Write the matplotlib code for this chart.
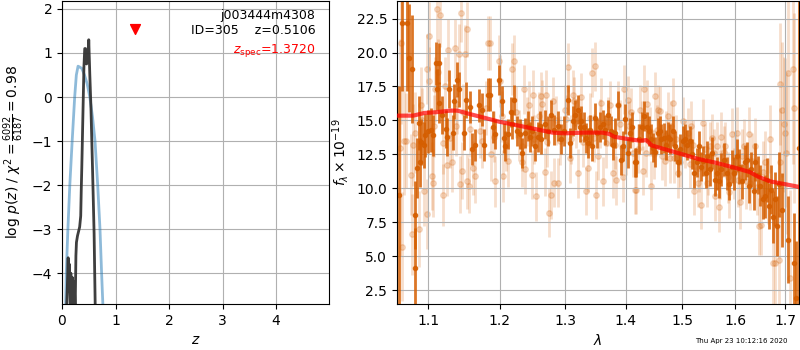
import matplotlib
matplotlib.use("Agg")
import matplotlib.pyplot as plt
from matplotlib.ticker import FixedLocator, FixedFormatter, NullLocator

# --- left panel: redshift PDF ---
z_prior = [0.06, 0.08, 0.11, 0.146, 0.19, 0.237, 0.268, 0.30, 0.33, 0.37, 0.42, 0.47,
           0.52, 0.57, 0.617, 0.667, 0.71, 0.74, 0.77, 0.80]
logp_prior = [-5.2, -4.0, -3.0, -2.0, -1.0, 0.0, 0.5, 0.70, 0.68, 0.65, 0.50, 0.30,
              0.0, -0.45, -1.0, -2.0, -3.0, -4.0, -4.9, -5.8]

z_fit = [0.08, 0.10, 0.115, 0.125, 0.14, 0.155, 0.165, 0.18, 0.195, 0.205, 0.215, 0.23,
         0.245, 0.26, 0.27, 0.29, 0.31, 0.33, 0.35, 0.36, 0.37, 0.39, 0.41, 0.425, 0.44,
         0.45, 0.46, 0.47, 0.48, 0.49, 0.50, 0.51, 0.52, 0.54, 0.57, 0.60, 0.62, 0.64]
logp_fit = [-5.0, -4.3, -3.65, -4.4, -3.8, -4.9, -4.0, -4.9, -4.1, -4.3, -4.9, -4.2,
            -4.9, -3.6, -3.3, -3.15, -3.05, -2.95, -2.7, -2.1, -1.6, -0.45, 0.69, 1.1, 1.1,
            0.9, 0.75, 1.0, 1.05, 0.8, 1.3, 0.9, 0.5, -0.2, -1.6, -3.1, -4.7, -6.0]

z_spec = 1.372
z_best = 0.5106
obj_name = "j003444m4308"
obj_id = 305

# --- right panel: spectrum (binned, dark) ---
wave_bin = [1.062, 1.065, 1.072, 1.075, 1.079, 1.082, 1.083, 1.085, 1.088, 1.089, 1.091, 1.094,
            1.096, 1.100, 1.104, 1.107, 1.111, 1.112, 1.114, 1.115, 1.119, 1.124, 1.126, 1.129,
            1.134, 1.135, 1.139, 1.142, 1.149, 1.152, 1.157, 1.160, 1.165,
            1.170, 1.175, 1.178, 1.183, 1.186, 1.190, 1.194, 1.199, 1.203, 1.206, 1.208, 1.213,
            1.217, 1.219, 1.222, 1.226, 1.231, 1.234, 1.238, 1.242, 1.246, 1.248, 1.253, 1.257,
            1.261, 1.263, 1.268, 1.273, 1.277, 1.282,
            1.289, 1.294, 1.298, 1.305, 1.307, 1.313, 1.316, 1.320, 1.323, 1.326, 1.330, 1.334,
            1.337, 1.340, 1.343, 1.348, 1.352, 1.356, 1.361, 1.365, 1.370, 1.374, 1.378, 1.382,
            1.387, 1.392, 1.395, 1.399, 1.403, 1.407, 1.411, 1.415,
            1.418, 1.422, 1.427, 1.431, 1.436, 1.440, 1.444, 1.447, 1.451, 1.455, 1.459, 1.462,
            1.466, 1.471, 1.474, 1.478, 1.482, 1.487, 1.492, 1.496, 1.501, 1.504, 1.509, 1.513,
            1.518, 1.521, 1.526, 1.530, 1.534, 1.538, 1.543, 1.546, 1.551, 1.555, 1.561,
            1.564, 1.568, 1.573, 1.578, 1.583, 1.588, 1.593, 1.598, 1.603, 1.607, 1.612, 1.618,
            1.622, 1.626, 1.631, 1.636, 1.639, 1.645, 1.649, 1.654, 1.658, 1.663, 1.667, 1.671,
            1.676, 1.680, 1.684, 1.687, 1.694, 1.707, 1.719, 1.723, 1.728]
flux_bin = [9.5, 22.2, 22.2, 19.6, 18.8, 8.0, 4.1, 11.5, 14.8, 11.9, 13.4, 13.2,
            13.9, 14.2, 14.3, 13.9, 19.2, 17.3, 19.2, 16.3, 15.4, 14.4, 13.8, 17.3,
            14.1, 16.4, 18.0, 17.3, 14.1, 16.5, 16.0, 12.9, 13.2,
            16.1, 15.8, 13.2, 16.9, 16.9, 14.5, 14.0, 18.0, 16.4, 13.7, 13.1, 14.0,
            15.6, 14.7, 16.5, 14.2, 14.0, 12.6, 14.1, 14.6, 13.8, 14.2, 13.1, 13.8,
            14.6, 13.6, 14.7, 14.2, 15.4, 14.3,
            14.6, 13.6, 14.2, 16.5, 13.35, 14.95, 15.4, 15.8, 14.5, 14.95, 14.5, 13.7,
            13.35, 14.3, 13.1, 15.2, 14.1, 14.5, 14.7, 14.3, 15.4, 14.2, 13.2, 14.1,
            16.1, 12.1, 13.1, 15.1, 12.6, 14.1, 14.5, 11.9,
            11.9, 13.6, 14.5, 15.3, 14.5, 14.2, 13.6, 13.0, 12.7, 14.1, 14.2, 13.6,
            13.7, 13.2, 13.8, 13.6, 14.2, 13.1, 11.9, 12.9, 13.5, 13.6, 13.2, 13.5,
            12.5, 11.1, 11.9, 13.1, 11.6, 12.0, 11.1, 12.4, 11.4, 12.6, 10.6,
            11.1, 10.5, 11.4, 12.1, 11.1, 10.3, 11.6, 11.1, 12.4, 11.6, 10.5, 11.9,
            12.1, 10.2, 11.4, 9.8, 11.9, 11.0, 10.2, 9.2, 9.4, 10.6, 8.7, 9.9,
            7.9, 9.2, 7.2, 10.3, 8.4, 6.2, 4.5, 1.9, 13.0]
err_bin = [8.0, 5.0, 5.0, 4.0, 4.0, 2.5, 3.0, 2.2, 2.0, 1.8, 1.7, 1.7,
           1.6, 1.6, 1.6, 1.5, 1.6, 1.5, 1.5, 1.5, 1.4, 1.4, 1.4, 1.4,
           1.3, 1.3, 1.3, 1.3, 1.3, 1.3, 1.2, 1.2, 1.2,
           1.2, 1.2, 1.2, 1.2, 1.2, 1.2, 1.1, 1.1, 1.1, 1.1, 1.1, 1.1,
           1.1, 1.1, 1.1, 1.1, 1.1, 1.1, 1.1, 1.1, 1.1, 1.1, 1.1, 1.1,
           1.1, 1.1, 1.1, 1.1, 1.1, 1.1,
           1.1, 1.1, 1.1, 1.1, 1.1, 1.1, 1.1, 1.1, 1.1, 1.1, 1.1, 1.1,
           1.1, 1.1, 1.1, 1.1, 1.1, 1.1, 1.1, 1.1, 1.1, 1.1, 1.1, 1.1,
           1.1, 1.1, 1.1, 1.1, 1.1, 1.1, 1.1, 1.1,
           1.1, 1.1, 1.1, 1.1, 1.1, 1.1, 1.1, 1.1, 1.1, 1.1, 1.1, 1.1,
           1.1, 1.1, 1.1, 1.1, 1.1, 1.1, 1.1, 1.1, 1.1, 1.1, 1.1, 1.1,
           1.1, 1.1, 1.1, 1.1, 1.1, 1.1, 1.1, 1.1, 1.2, 1.2, 1.2,
           1.2, 1.2, 1.2, 1.2, 1.2, 1.2, 1.2, 1.2, 1.2, 1.3, 1.3, 1.3,
           1.3, 1.3, 1.3, 1.4, 1.4, 1.4, 1.5, 1.5, 1.6, 1.6, 1.7, 1.8,
           1.9, 2.0, 2.2, 2.4, 2.7, 3.2, 3.7, 4.2, 12.0]

# --- right panel: spectrum (unbinned, light) ---
wave_raw = [1.063, 1.064, 1.066, 1.068, 1.071, 1.077, 1.078, 1.080, 1.083, 1.088, 1.091, 1.094,
            1.098, 1.098, 1.101, 1.101, 1.105, 1.106, 1.109, 1.112, 1.113, 1.116, 1.120, 1.120,
            1.126, 1.127, 1.130, 1.133, 1.136, 1.138, 1.142, 1.144, 1.145, 1.146, 1.148, 1.150,
            1.153, 1.154, 1.156, 1.162,
            1.165, 1.175, 1.183, 1.186, 1.188, 1.194, 1.199, 1.200, 1.205, 1.213, 1.218, 1.222,
            1.233, 1.234, 1.236, 1.238, 1.244, 1.248, 1.250, 1.255, 1.263, 1.264, 1.268, 1.270,
            1.275, 1.277, 1.281, 1.282,
            1.288, 1.299, 1.305, 1.308, 1.313, 1.314, 1.321, 1.326, 1.334, 1.337, 1.343, 1.348,
            1.350, 1.353, 1.358, 1.361, 1.373, 1.378, 1.384, 1.387, 1.395, 1.397, 1.403, 1.409,
            1.412, 1.416,
            1.418, 1.424, 1.430, 1.431, 1.437, 1.444, 1.451, 1.456, 1.459, 1.468, 1.474, 1.479,
            1.482, 1.485, 1.492, 1.501, 1.510, 1.516, 1.522, 1.528, 1.534, 1.538, 1.545, 1.551,
            1.555, 1.561,
            1.564, 1.568, 1.573, 1.580, 1.588, 1.593, 1.597, 1.603, 1.609, 1.617, 1.626, 1.629,
            1.639, 1.646, 1.651, 1.659, 1.669, 1.676, 1.680, 1.687, 1.690, 1.690, 1.694, 1.697,
            1.700, 1.702, 1.707, 1.711, 1.716, 1.719,
            # pale points buried in the dense band around the model
            1.092, 1.108, 1.123, 1.139, 1.158, 1.172, 1.180, 1.192, 1.203, 1.210, 1.224, 1.229,
            1.241, 1.252, 1.259, 1.272, 1.285, 1.292, 1.302, 1.310, 1.318, 1.329, 1.340, 1.346,
            1.356, 1.366, 1.370, 1.381, 1.390, 1.400, 1.406, 1.421, 1.427, 1.434, 1.441, 1.448,
            1.454, 1.463, 1.471, 1.477, 1.489, 1.496, 1.505, 1.513, 1.519, 1.531, 1.541, 1.548,
            1.558, 1.571, 1.577, 1.585, 1.600, 1.606, 1.613, 1.621, 1.633, 1.642, 1.655, 1.664]
flux_raw = [13.0, 20.7, 5.7, 13.5, 13.5, 11.0, 6.6, 13.2, 14.1, 7.0, 16.1, 9.8,
            8.1, 18.8, 21.2, 17.9, 10.9, 10.4, 17.3, 23.2, 18.6, 22.8, 9.5, 13.35,
            11.7, 20.2, 13.7, 11.9, 20.3, 14.6, 19.9, 10.3, 22.9, 11.3, 15.6, 19.9,
            10.5, 21.7, 10.2, 11.5,
            10.9, 13.5, 20.7, 20.7, 12.5, 10.5, 19.4, 17.9, 10.9, 12.0, 18.8, 19.4,
            11.9, 13.1, 17.3, 11.4, 16.1, 11.0, 16.9, 9.4, 16.8, 16.2, 11.2, 16.9,
            8.2, 9.5, 16.4, 10.4,
            10.4, 15.8, 18.9, 12.2, 16.9, 16.4, 11.1, 16.7, 9.8, 11.5, 18.5, 19.0,
            9.5, 12.4, 16.3, 10.5, 16.1, 11.1, 10.6, 16.1, 10.8, 17.3, 16.5, 15.6,
            12.6, 9.9,
            9.9, 15.8, 11.3, 17.3, 16.2, 10.2, 16.8, 15.8, 15.7, 12.0, 15.3, 14.6,
            16.3, 12.2, 11.1, 14.95, 14.1, 14.6, 9.8, 10.4, 8.8, 14.8, 10.4, 13.1,
            13.7, 9.4,
            13.1, 8.6, 13.8, 13.1, 9.7, 14.0, 11.1, 14.1, 9.0, 13.1, 14.0, 10.4,
            13.1, 7.2, 7.3, 11.9, 13.6, 4.5, 4.5, 4.7, 17.7, 11.9, 15.8, 14.7,
            14.1, 12.6, 18.5, 3.4, 18.8, 15.9,
            15.0, 14.6, 17.5, 16.2, 14.4, 14.2, 15.9, 13.8, 15.3, 13.2, 15.6, 13.9,
            14.9, 13.6, 15.3, 13.4, 15.0, 13.5, 15.1, 13.6, 14.8, 13.4, 15.2, 13.7,
            14.8, 13.3, 14.9, 13.2, 14.7, 12.8, 14.6, 12.9, 14.6, 12.6, 14.2, 12.5,
            14.3, 12.4, 13.9, 12.2, 13.6, 11.9, 13.3, 11.8, 13.2, 11.5, 12.9, 11.3,
            12.6, 11.0, 12.7, 10.8, 12.3, 10.6, 12.4, 10.5, 12.0, 10.1, 11.2, 9.8]
err_raw = [8.0, 6.0, 4.0, 4.0, 3.5, 3.0, 3.0, 3.0, 3.0, 2.8, 2.8, 2.6,
           2.6, 2.6, 2.5, 2.5, 2.5, 2.5, 2.4, 2.4, 2.4, 2.4, 2.3, 2.3,
           2.3, 2.3, 2.2, 2.2, 2.2, 2.2, 2.2, 2.1, 2.1, 2.1, 2.1, 2.1,
           2.0, 2.0, 2.0, 2.0,
           2.0, 2.0, 2.0, 2.0, 2.0, 1.9, 1.9, 1.9, 1.9, 1.9, 1.9, 1.9,
           1.8, 1.8, 1.8, 1.8, 1.8, 1.8, 1.8, 1.8, 1.8, 1.8, 1.8, 1.8,
           1.8, 1.8, 1.8, 1.8,
           1.8, 1.8, 1.8, 1.8, 1.8, 1.8, 1.8, 1.8, 1.8, 1.8, 1.8, 1.8,
           1.8, 1.8, 1.8, 1.8, 1.8, 1.8, 1.8, 1.8, 1.8, 1.8, 1.8, 1.8,
           1.8, 1.8,
           1.8, 1.8, 1.8, 1.8, 1.8, 1.8, 1.8, 1.8, 1.8, 1.8, 1.8, 1.8,
           1.8, 1.8, 1.8, 1.8, 1.8, 1.8, 1.8, 1.8, 1.8, 1.8, 1.8, 1.8,
           1.8, 1.8,
           1.8, 1.8, 1.8, 1.8, 1.9, 1.9, 1.9, 1.9, 2.0, 2.0, 2.0, 2.0,
           2.1, 2.1, 2.2, 2.3, 2.5, 3.0, 3.0, 3.5, 4.5, 4.0, 5.0, 5.0,
           5.5, 6.0, 6.0, 6.5, 7.0, 7.0,
           2.4, 2.3, 2.2, 2.2, 2.1, 2.0, 2.0, 1.9, 1.9, 1.9, 1.9, 1.9,
           1.8, 1.8, 1.8, 1.8, 1.8, 1.8, 1.8, 1.8, 1.8, 1.8, 1.8, 1.8,
           1.8, 1.8, 1.8, 1.8, 1.8, 1.8, 1.8, 1.8, 1.8, 1.8, 1.8, 1.8,
           1.8, 1.8, 1.8, 1.8, 1.8, 1.8, 1.8, 1.8, 1.8, 1.8, 1.8, 1.8,
           1.8, 1.8, 1.9, 1.9, 1.9, 2.0, 2.0, 2.0, 2.1, 2.1, 2.3, 2.4]

model_wave = [1.059, 1.08, 1.095, 1.11, 1.13, 1.14, 1.155, 1.17, 1.185, 1.2, 1.225, 1.25,
              1.28, 1.3, 1.33, 1.36, 1.372, 1.38, 1.40, 1.425, 1.435, 1.445, 1.47, 1.5,
              1.53, 1.56, 1.6, 1.628, 1.645, 1.67, 1.7, 1.729]
model_flux = [15.35, 15.35, 15.55, 15.6, 15.72, 15.72, 15.5, 15.3, 15.1, 14.9, 14.65, 14.4,
              14.1, 14.05, 14.1, 14.1, 14.0, 13.8, 13.65, 13.5, 13.55, 13.15, 12.85, 12.5,
              12.15, 11.9, 11.5, 11.2, 10.85, 10.5, 10.3, 10.1]

wave_ticks = [1.1, 1.2, 1.3, 1.4, 1.5, 1.6, 1.7]
g141_color = (0.8352941176470589, 0.3686274509803922, 0.0)

fig = plt.figure(figsize=(8, 3.5), dpi=100)
ax1 = fig.add_axes([62/800, 1-304/350, 267/800, 303/350])
ax2 = fig.add_axes([397/800, 1-304/350, 402/800, 303/350])

# PDF panel
ax1.plot(z_prior, logp_prior, color='#1f77b4', alpha=0.5, lw=2)
ax1.plot(z_fit, logp_fit, color='0.2', alpha=0.95, lw=2)
ax1.scatter([z_spec], [1.55], marker='v', color='red', s=50, zorder=5)
ax1.set_xlim(0, 4.99)
ax1.set_ylim(-4.7, 2.18)
ax1.set_xlabel(r'$z$')
ax1.set_ylabel(r'log $p(z)$ / $\chi^2=\frac{6092}{6187}=0.98$')
ax1.grid(True)
ax1.text(0.95, 0.975, '{0}\nID={1}    z={2:.4f}'.format(obj_name, obj_id, z_best),
         ha='right', va='top', fontsize=9, transform=ax1.transAxes)
ax1.text(0.95, 0.81, r'$z_\mathrm{spec}$' + '={0:.4f}'.format(z_spec),
         ha='right', va='bottom', fontsize=9, color='red', transform=ax1.transAxes)

# spectrum panel
ax2.errorbar(wave_raw, flux_raw, yerr=err_raw, color=g141_color, alpha=0.2,
             marker='o', ms=4, linestyle='None', elinewidth=2, zorder=1)
ax2.errorbar(wave_bin, flux_bin, yerr=err_bin, color=g141_color, alpha=0.85,
             marker='o', ms=3, linestyle='None', elinewidth=2, zorder=2)
ax2.plot(model_wave, model_flux, color='red', alpha=0.7, lw=3, zorder=3)
ax2.set_xscale('log')
ax2.set_xlim(1.059, 1.729)
ax2.set_ylim(1.47, 23.8)
ax2.xaxis.set_major_locator(FixedLocator(wave_ticks))
ax2.xaxis.set_major_formatter(FixedFormatter(['{0:.1f}'.format(w) for w in wave_ticks]))
ax2.xaxis.set_minor_locator(NullLocator())
ax2.set_xlabel(r'$\lambda$')
ax2.set_ylabel(r'$f_\lambda \times 10^{-19}$')
ax2.grid(True)

fig.text(0.984, 0.027, 'Thu Apr 23 10:12:16 2020', ha='right', va='center', fontsize=5)

fig.savefig('out.png', dpi=100)
